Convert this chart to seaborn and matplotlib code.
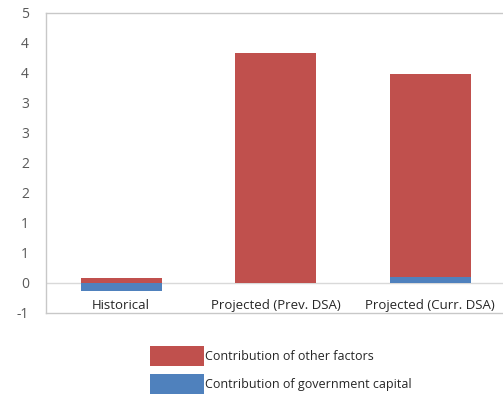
import numpy as np
import pandas as pd
import matplotlib
matplotlib.use("Agg")
import matplotlib.pyplot as plt
import seaborn as sns

# Decomposition of the change, by scenario
categories = ["Historical", "Projected (Prev. DSA)", "Projected (Curr. DSA)"]
gov_capital = [-0.14, 0.0, 0.10]
other_factors = [0.09, 3.83, 3.38]

y_ticks = [-0.5, 0.0, 0.5, 1.0, 1.5, 2.0, 2.5, 3.0, 3.5, 4.0, 4.5]
y_tick_labels = ["-1", "0", "1", "1", "2", "2", "3", "3", "4", "4", "5"]

series_names = ["Contribution of other factors", "Contribution of government capital"]
RED = "#C0504D"
BLUE = "#4F81BD"

sns.set_theme(style="white")
plt.rcParams["font.family"] = ["Open Sans", "DejaVu Sans"]

df = pd.DataFrame({"category": categories,
                   "gov": gov_capital,
                   "other": other_factors})
# positive pieces stack above zero, negative ones hang below it
df["base"] = np.clip(df["gov"], 0, None)

fig = plt.figure(figsize=(5.03, 3.96), dpi=100)
W, H = 503, 396
left, right, top, bottom = 45.5, 509, 13, 313
ax = fig.add_axes([left / W, (H - bottom) / H, (right - left) / W, (bottom - top) / H])

sns.barplot(data=df, x="category", y="gov", color=BLUE, saturation=1,
            width=0.526, ax=ax, label=series_names[1], linewidth=0)
sns.barplot(data=df, x="category", y="other", color=RED, saturation=1,
            width=0.526, ax=ax, label=series_names[0], linewidth=0,
            bottom=df["base"].to_numpy())

ax.set_ylim(-0.5, 4.5)
ax.set_xlim(-0.49, 2.51)
ax.set_yticks(y_ticks)
ax.set_yticklabels(y_tick_labels)
ax.set_xlabel("")
ax.set_ylabel("")
ax.axhline(0, color="#d9d9d9", lw=1, zorder=0)

for side in ["left", "top", "bottom", "right"]:
    ax.spines[side].set_color("#c8c8c8")
    ax.spines[side].set_linewidth(1)
ax.tick_params(axis="y", length=0, pad=12, labelsize=10, labelcolor="#595959")
ax.tick_params(axis="x", length=0, pad=-10, labelsize=9.5, labelcolor="#262626")
if ax.get_legend():
    ax.get_legend().remove()

handles, labels = ax.get_legend_handles_labels()
order = [labels.index(n) for n in series_names]
fig.legend([handles[i] for i in order], [labels[i] for i in order],
           loc="upper left", bbox_to_anchor=(150 / W, (H - 346) / H),
           frameon=False, fontsize=9, handlelength=4.3, handleheight=2.08,
           handletextpad=0.08, labelspacing=0.68, borderpad=0, borderaxespad=0,
           labelcolor="#262626")

fig.savefig("out.png", dpi=100)
